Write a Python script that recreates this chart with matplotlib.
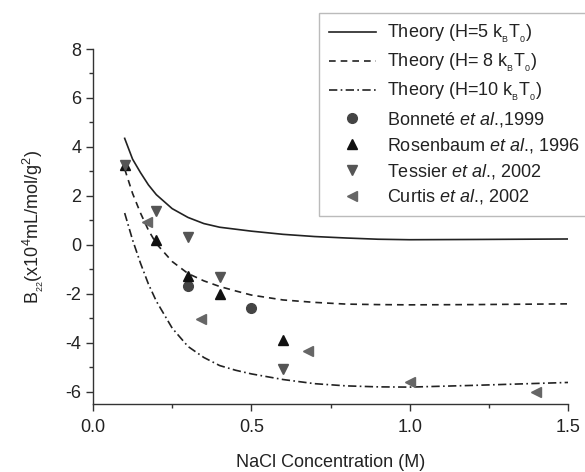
import numpy as np
import matplotlib
matplotlib.use("Agg")
import matplotlib.pyplot as plt
from matplotlib.ticker import MultipleLocator

plt.rcParams['font.family'] = ['Liberation Sans', 'DejaVu Sans']
plt.rcParams['mathtext.fontset'] = 'custom'
plt.rcParams['mathtext.rm'] = 'Liberation Sans'
plt.rcParams['mathtext.it'] = 'Liberation Sans:italic'
plt.rcParams['mathtext.bf'] = 'Liberation Sans:bold'

# Theory curves
x_theory = [0.1, 0.125, 0.15, 0.175, 0.2, 0.25, 0.3, 0.35, 0.4, 0.45, 0.5,
            0.6, 0.7, 0.8, 0.9, 1.0, 1.2, 1.5]
y_h5 = [4.35, 3.5, 2.95, 2.45, 2.05, 1.48, 1.12, 0.87, 0.72, 0.64, 0.56,
        0.43, 0.34, 0.28, 0.23, 0.21, 0.22, 0.24]
y_h8 = [3.1, 2.1, 1.3, 0.6, 0.05, -0.68, -1.17, -1.47, -1.7, -1.88, -2.05,
        -2.25, -2.35, -2.42, -2.44, -2.45, -2.44, -2.41]
y_h10 = [1.3, 0.2, -0.75, -1.6, -2.3, -3.4, -4.15, -4.6, -4.93, -5.12, -5.27,
         -5.5, -5.67, -5.76, -5.8, -5.81, -5.74, -5.62]

# Experimental data
bon_x = [0.3, 0.5]
bon_y = [-1.67, -2.56]
ros_x = [0.1, 0.2, 0.3, 0.4, 0.6]
ros_y = [3.25, 0.18, -1.29, -2.0, -3.9]
tes_x = [0.1, 0.2, 0.3, 0.4, 0.6]
tes_y = [3.25, 1.39, 0.34, -1.32, -5.07]
cur_x = [0.17, 0.34, 0.68, 1.0, 1.4]
cur_y = [0.95, -3.03, -4.33, -5.6, -6.03]

fig = plt.figure(figsize=(5.85, 4.72), dpi=100)
ax = fig.add_axes([93/585, 1-404/472, (568-93)/585, (404-49)/472])

lc = '#222222'
sub = r'k$_{_\mathregular{B}}$T$_{_\mathregular{0}}$'
ax.plot(x_theory, y_h5, '-', color=lc, lw=1.2, label='Theory (H=5 ' + sub + ')')
ax.plot(x_theory, y_h8, color=lc, lw=1.2, linestyle=(0, (4, 3)),
        label='Theory (H= 8 ' + sub + ')')
ax.plot(x_theory, y_h10, color=lc, lw=1.2, linestyle=(0, (5, 2, 1, 2)),
        label='Theory (H=10 ' + sub + ')')

ax.plot(bon_x, bon_y, 'o', color='#444444', ms=7, ls='none', label=r'Bonneté $\mathit{et\ al.}\!$,1999')
ax.plot(ros_x, ros_y, '^', color='#111111', ms=7, ls='none', label=r'Rosenbaum $\mathit{et\ al.}\!$, 1996')
ax.plot(tes_x, tes_y, 'v', color='#555555', ms=7, ls='none', label=r'Tessier $\mathit{et\ al.}\!$, 2002')
ax.plot(cur_x, cur_y, '<', color='#666666', ms=7, ls='none', label=r'Curtis $\mathit{et\ al.}\!$, 2002')

ax.set_xlim(0, 1.5)
ax.set_ylim(-6.5, 8)
ax.xaxis.set_minor_locator(MultipleLocator(0.25))
ax.yaxis.set_minor_locator(MultipleLocator(1))
ax.set_xticks([0.0, 0.5, 1.0, 1.5])
ax.set_xticklabels(['0.0', '0.5', '1.0', '1.5'])
ax.set_yticks([-6, -4, -2, 0, 2, 4, 6, 8])
ax.set_yticklabels(['-6', '-4', '-2', '0', '2', '4', '6', '8'])
ax.spines['top'].set_visible(False)
ax.spines['right'].set_visible(False)
for s in ('left', 'bottom'):
    ax.spines[s].set_color('#333333')
    ax.spines[s].set_linewidth(1.0)
ax.tick_params(which='major', direction='out', length=5, width=1, colors='#333333',
               labelsize=13, labelcolor='#222222')
ax.tick_params(axis='x', which='major', pad=6)
ax.tick_params(which='minor', direction='out', length=3, width=1, colors='#333333')
ax.set_xlabel('NaCl Concentration (M)', fontsize=13, color='#222222', labelpad=13)
ax.set_ylabel(r'B$_{_\mathregular{22}}$(x10$^\mathregular{4}$mL/mol/g$^\mathregular{2}$)', fontsize=13,
              color='#222222', labelpad=14)

leg = fig.legend(loc='upper left', bbox_to_anchor=(319/585, 1-13/472), bbox_transform=fig.transFigure,
                 borderaxespad=0, fontsize=13, frameon=True, fancybox=False, handlelength=2.6,
                 labelspacing=0.38, borderpad=0.55, handletextpad=0.6)
leg.get_frame().set_edgecolor('#aaaaaa')
leg.get_frame().set_linewidth(1.0)
for t in leg.get_texts():
    t.set_color('#222222')

fig.savefig('out.png', dpi=100)
